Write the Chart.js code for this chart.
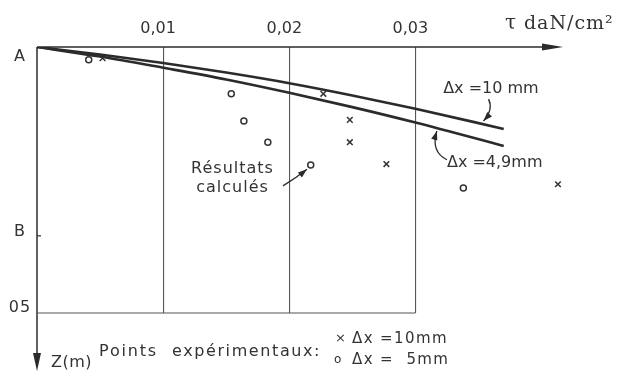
<!DOCTYPE html>
<html>
<head>
<meta charset="utf-8">
<script src="https://cdn.jsdelivr.net/npm/chart.js@4.4.0/dist/chart.umd.min.js"></script>
<style>
  html, body { margin: 0; padding: 0; background: #fff; }
  #wrap { width: 617px; height: 371px; }
</style>
</head>
<body>
<div id="wrap"><canvas id="shearChart" width="617" height="371"></canvas></div>
<script>
// top axis: tau in daN/cm2
const tauTicks = [0.01, 0.02, 0.03];
// left axis: depth Z (m), named marks
const depthMarks = [0, 0.355, 0.5];
const depthLabels = ['A', 'B', '05'];

// calculated results (curves)
const calcTau = [0, 0.005, 0.010, 0.015, 0.020, 0.025, 0.030, 0.037];
const calcZ10 = [0, 0.014, 0.030, 0.048, 0.068, 0.091, 0.116, 0.154];   // dx = 10 mm
const calcZ49 = [0, 0.018, 0.039, 0.061, 0.086, 0.113, 0.142, 0.186];   // dx = 4,9 mm

// experimental points
const expTau10 = [0.0052, 0.0227, 0.0248, 0.0248, 0.0277, 0.0413];  // x, dx = 10 mm
const expZ10 = [0.021, 0.088, 0.137, 0.179, 0.220, 0.258];
const expTau5 = [0.0041, 0.0154, 0.0164, 0.0183, 0.0217, 0.0338];   // o, dx = 5 mm
const expZ5 = [0.024, 0.088, 0.139, 0.179, 0.222, 0.265];

const ink = '#2b2b2b';
const textInk = '#333';

function pairs(xs, ys) {
  return xs.map((v, i) => ({ x: v, y: ys[i] }));
}

// draws the axes arrows, frame and the hand-lettered notes
const sketchPlugin = {
  id: 'sketch',
  afterDraw(chart) {
    const ctx = chart.ctx;
    const xs = chart.scales.x;
    const ys = chart.scales.y;
    const X = v => xs.getPixelForValue(v);
    const Y = v => ys.getPixelForValue(v);
    const x0 = X(0), y0 = Y(0);

    ctx.save();
    ctx.strokeStyle = ink;
    ctx.fillStyle = ink;

    // top axis with arrow
    ctx.lineWidth = 1.5;
    ctx.beginPath();
    ctx.moveTo(x0, y0);
    ctx.lineTo(chart.chartArea.right - 10, y0);
    ctx.stroke();
    ctx.beginPath();
    ctx.moveTo(chart.chartArea.right, y0);
    ctx.lineTo(chart.chartArea.right - 21, y0 - 3.5);
    ctx.lineTo(chart.chartArea.right - 21, y0 + 3.5);
    ctx.closePath();
    ctx.fill();

    // left axis with arrow going down
    const yEnd = chart.height;
    ctx.beginPath();
    ctx.moveTo(x0, y0);
    ctx.lineTo(x0, yEnd - 10);
    ctx.stroke();
    ctx.beginPath();
    ctx.moveTo(x0, yEnd);
    ctx.lineTo(x0 - 4, yEnd - 18);
    ctx.lineTo(x0 + 4, yEnd - 18);
    ctx.closePath();
    ctx.fill();

    // bottom frame line at Z = 0.5
    ctx.lineWidth = 1.2;
    ctx.strokeStyle = '#555';
    ctx.beginPath();
    ctx.moveTo(x0, Y(0.5));
    ctx.lineTo(X(tauTicks[tauTicks.length - 1]), Y(0.5));
    ctx.stroke();

    // small tick at B
    ctx.strokeStyle = ink;
    ctx.beginPath();
    ctx.moveTo(x0, Y(depthMarks[1]));
    ctx.lineTo(x0 + 4, Y(depthMarks[1]));
    ctx.stroke();

    function txt(s, x, y, font, align, spacing) {
      ctx.font = font;
      ctx.textAlign = align || 'left';
      ctx.textBaseline = 'middle';
      ctx.letterSpacing = (spacing || 0) + 'px';
      ctx.fillStyle = textInk;
      ctx.fillText(s, x, y);
      ctx.letterSpacing = '0px';
    }

    const sans = '"DejaVu Sans", sans-serif';

    // depth labels
    const labelShift = [10, -4, -5];
    depthMarks.forEach((m, i) => {
      txt(depthLabels[i], 20, Y(m) + labelShift[i], '16px ' + sans, 'center', 1);
    });

    // axis titles
    txt('\u03c4', xs.getPixelForValue(0.0371), 24, '20px "DejaVu Serif", serif', 'left', 0);
    txt('daN/cm\u00b2', xs.getPixelForValue(0.0386), 24, '19px "DejaVu Serif", serif', 'left', 1);
    txt('Z(m)', x0 + 14, 363, '16px ' + sans, 'left', 0.5);

    // curve labels
    txt('\u0394x =10 mm', X(0.0322), Y(0.078), '16px ' + sans, 'left', 0);
    txt('\u0394x =4,9mm', X(0.0325), Y(0.217), '16px ' + sans, 'left', 0);
    txt('R\u00e9sultats', X(0.0155), Y(0.229), '16px ' + sans, 'center', 1);
    txt('calcul\u00e9s', X(0.0155), Y(0.265), '16px ' + sans, 'center', 1);

    // legend of experimental points
    txt('Points', 99, 352, '16px ' + sans, 'left', 1.8);
    txt('exp\u00e9rimentaux:', 172, 352, '16px ' + sans, 'left', 1.6);
    txt('\u00d7', 335, 339, '13px ' + sans, 'left', 0);
    txt('\u0394x =10mm', 352, 339, '15px ' + sans, 'left', 1.4);
    txt('o', 334, 360, '12px ' + sans, 'left', 0);
    txt('\u0394x =  5mm', 352, 360, '15px ' + sans, 'left', 1.4);

    // curved pointer arrows
    function pointer(sx, sy, cx, cy, ex, ey) {
      ctx.strokeStyle = ink;
      ctx.fillStyle = ink;
      ctx.lineWidth = 1.3;
      ctx.beginPath();
      ctx.moveTo(sx, sy);
      ctx.quadraticCurveTo(cx, cy, ex, ey);
      ctx.stroke();
      const a = Math.atan2(ey - cy, ex - cx);
      const len = 9, w = 3.2;
      ctx.beginPath();
      ctx.moveTo(ex, ey);
      ctx.lineTo(ex - len * Math.cos(a) + w * Math.sin(a), ey - len * Math.sin(a) - w * Math.cos(a));
      ctx.lineTo(ex - len * Math.cos(a) - w * Math.sin(a), ey - len * Math.sin(a) + w * Math.cos(a));
      ctx.closePath();
      ctx.fill();
    }
    pointer(X(0.0358), Y(0.098), X(0.0362), Y(0.118), X(0.0354), Y(0.139));
    pointer(X(0.0325), Y(0.212), X(0.0312), Y(0.197), X(0.0317), Y(0.158));
    pointer(X(0.0195), Y(0.261), X(0.0205), Y(0.247), X(0.0214), Y(0.230));

    ctx.restore();
  }
};

const ctx = document.getElementById('shearChart').getContext('2d');
new Chart(ctx, {
  type: 'scatter',
  data: {
    datasets: [
      {
        label: 'dx = 10 mm (calc)',
        type: 'line',
        data: pairs(calcTau, calcZ10),
        borderColor: ink,
        borderWidth: 2.6,
        pointRadius: 0,
        cubicInterpolationMode: 'monotone',
        fill: false
      },
      {
        label: 'dx = 4,9 mm (calc)',
        type: 'line',
        data: pairs(calcTau, calcZ49),
        borderColor: ink,
        borderWidth: 2.6,
        pointRadius: 0,
        cubicInterpolationMode: 'monotone',
        fill: false
      },
      {
        label: 'dx = 10 mm (exp)',
        data: pairs(expTau10, expZ10),
        pointStyle: 'crossRot',
        pointRadius: 4,
        borderColor: '#333',
        borderWidth: 1.5
      },
      {
        label: 'dx = 5 mm (exp)',
        data: pairs(expTau5, expZ5),
        pointStyle: 'circle',
        pointRadius: 3,
        borderColor: '#333',
        backgroundColor: '#fff',
        borderWidth: 1.5
      }
    ]
  },
  options: {
    responsive: false,
    animation: false,
    layout: { padding: { left: 0, top: 0, right: 54, bottom: 58 } },
    plugins: { legend: { display: false }, tooltip: { enabled: false } },
    scales: {
      x: {
        type: 'linear',
        position: 'top',
        min: 0,
        max: 0.0417,
        afterFit: s => { s.height = 47; },
        afterBuildTicks: s => { s.ticks = tauTicks.map(v => ({ value: v })); },
        ticks: {
          callback: v => v.toFixed(2).replace('.', ','),
          font: { family: '"DejaVu Sans", sans-serif', size: 16 },
          color: textInk,
          padding: 9,
          labelOffset: -5,
          maxRotation: 0,
          autoSkip: false
        },
        grid: { color: '#555', lineWidth: 1.1, drawTicks: false },
        border: { display: false }
      },
      y: {
        type: 'linear',
        min: 0,
        max: 0.5,
        reverse: true,
        afterFit: s => { s.width = 37; },
        ticks: { display: false },
        grid: { display: false },
        border: { display: false }
      }
    }
  },
  plugins: [sketchPlugin]
});
</script>
</body>
</html>
